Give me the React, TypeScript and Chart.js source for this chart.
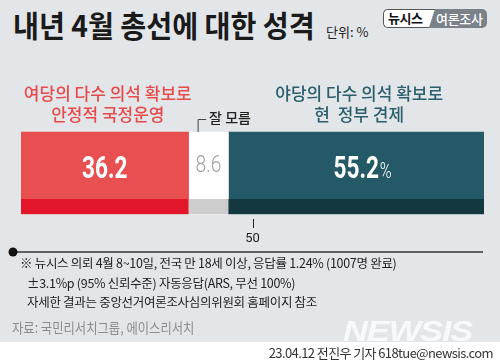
import React, { useEffect, useRef } from "react";
import { Chart, registerables } from "chart.js";

Chart.register(...registerables);

// ---- data ----
const categories = ["내년 4월 총선 성격"];
const seriesLabels = [
  ["여당의 다수 의석 확보로", "안정적 국정운영"],
  ["잘 모름"],
  ["야당의 다수 의석 확보로", "현  정부 견제"],
];
const values = [36.2, 8.6, 55.2];
const valueSuffix = ["", "", "%"];
const xTickValues = [50];

const title = "내년 4월 총선에 대한 성격";
const unitText = "단위: %";
const notes = [
  "※ 뉴시스 의뢰 4월 8~10일, 전국 만 18세 이상, 응답률 1.24% (1007명 완료)",
  "±3.1%p (95% 신뢰수준) 자동응답(ARS, 무선 100%)",
  "자세한 결과는 중앙선거여론조사심의위원회 홈페이지 참조",
];
const sourceText = "자료: 국민리서치그룹, 에이스리서치";
const creditText = "23.04.12 전진우 기자 618tue@newsis.com";

// ---- styles ----
const topColors = ["#e84f51", "#ffffff", "#245a67"];
const bottomColors = ["#e3152b", "#cdcdcd", "#133840"];
const valueColors = ["#ffffff", "#a3a3a3", "#ffffff"];
const labelColors = ["#e84a4c", "#222222", "#2a5f6b"];
const KR = "'Noto Sans CJK KR', 'Noto Sans', sans-serif";

const decorPlugin = {
  id: "decor",
  afterDatasetsDraw(chart: any) {
    const ctx = chart.ctx;
    ctx.save();
    chart.data.datasets.forEach((ds: any, i: number) => {
      const meta = chart.getDatasetMeta(i);
      meta.data.forEach((el: any) => {
        const p = el.getProps(["x", "y", "base", "height"], true);
        const left = Math.min(p.x, p.base);
        const right = Math.max(p.x, p.base);
        const top = p.y - p.height / 2;
        const bottom = p.y + p.height / 2;
        // darker bottom stripe
        ctx.fillStyle = bottomColors[i];
        ctx.fillRect(left, bottom - 15, right - left, 15);

        const cx = (left + right) / 2;
        const v = ds.data[0];
        const txt = v.toFixed(1);
        // value label
        ctx.fillStyle = valueColors[i];
        ctx.textBaseline = "alphabetic";
        if (i === 1) {
          ctx.save();
          ctx.translate(cx, top + 40);
          ctx.scale(0.8, 1);
          ctx.font = "300 24px Roboto";
          ctx.textAlign = "center";
          ctx.fillText(txt, 0, 0);
          ctx.restore();
        } else {
          ctx.save();
          ctx.translate(cx, top + 46);
          ctx.scale(0.73, 1);
          ctx.font = "bold 31px Roboto";
          ctx.textAlign = "center";
          ctx.fillText(txt, 0, 0);
          const w = ctx.measureText(txt).width;
          if (valueSuffix[i]) {
            ctx.font = "300 22px Roboto";
            ctx.textAlign = "left";
            ctx.fillText(valueSuffix[i], w / 2 + 1, 0);
          }
          ctx.restore();
        }

        // category labels
        ctx.fillStyle = labelColors[i];
        ctx.textBaseline = "middle";
        if (i === 1) {
          ctx.strokeStyle = "#444";
          ctx.lineWidth = 1;
          const bx = left + 9.5;
          ctx.beginPath();
          ctx.moveTo(bx + 8, top - 12.5);
          ctx.lineTo(bx, top - 12.5);
          ctx.lineTo(bx, top);
          ctx.stroke();
          ctx.font = `500 14px ${KR}`;
          ctx.textAlign = "left";
          ctx.fillText(seriesLabels[i][0], bx + 11, top - 14);
        } else {
          ctx.font = `500 17px ${KR}`;
          ctx.textAlign = "center";
          const lines = seriesLabels[i];
          lines.forEach((ln: string, k: number) => {
            ctx.fillText(ln, cx + 3, top - 38 + k * 21);
          });
        }
      });
    });
    ctx.restore();
  },
  afterDraw(chart: any) {
    const ctx = chart.ctx;
    const xs = chart.scales.x;
    const b = chart.chartArea.bottom;
    ctx.save();
    // tick marks
    ctx.strokeStyle = "#222";
    ctx.lineWidth = 1;
    xTickValues.forEach((v) => {
      const x = Math.round(xs.getPixelForValue(v)) + 0.5;
      ctx.beginPath();
      ctx.moveTo(x, b + 3);
      ctx.lineTo(x, b + 12);
      ctx.stroke();
    });
    // baseline with dot
    const y = b + 36;
    ctx.strokeStyle = "#333";
    ctx.lineWidth = 1.5;
    ctx.beginPath();
    ctx.moveTo(13, y);
    ctx.lineTo(xs.right - 1, y);
    ctx.stroke();
    ctx.fillStyle = "#111";
    ctx.beginPath();
    ctx.arc(13, y, 4.5, 0, Math.PI * 2);
    ctx.fill();
    ctx.restore();
  },
};

export default function App() {
  const ref = useRef<HTMLCanvasElement>(null);
  useEffect(() => {
    document.body.style.margin = "0";
    const chart = new Chart(ref.current!, {
      type: "bar",
      data: {
        labels: categories,
        datasets: values.map((v, i) => ({
          label: seriesLabels[i].join(" "),
          data: [v],
          backgroundColor: topColors[i],
          borderWidth: 0,
          barThickness: 82,
        })),
      },
      options: {
        indexAxis: "y",
        animation: false,
        responsive: false,
        events: [],
        layout: { padding: { left: 21, right: 16, top: 130, bottom: 118 } },
        plugins: { legend: { display: false }, tooltip: { enabled: false } },
        scales: {
          x: {
            stacked: true,
            min: 0,
            max: 100,
            position: "bottom",
            border: { display: false },
            grid: { display: false, drawTicks: false },
            afterBuildTicks: (s: any) => {
              s.ticks = xTickValues.map((v) => ({ value: v }));
            },
            afterFit: (s: any) => {
              s.height = 30;
            },
            ticks: {
              color: "#222",
              font: { family: "Roboto", size: 13 },
              padding: 15,
              maxRotation: 0,
            },
          },
          y: { stacked: true, display: false },
        },
      } as any,
      plugins: [decorPlugin],
    });
    return () => chart.destroy();
  }, []);

  return (
    <div style={{ position: "relative", width: 500, height: 364, background: "#fff", overflow: "hidden" }}>
      <div style={{ position: "absolute", left: 0, top: 0, width: 500, height: 342, background: "#e3e6e9" }} />
      <div
        style={{
          position: "absolute", left: 13, top: 6, fontFamily: KR, fontWeight: 700, fontSize: 30,
          lineHeight: "36px", color: "#1a1a1a", transform: "scaleX(0.94)", transformOrigin: "left top", whiteSpace: "nowrap",
        }}
      >
        {title}
      </div>
      <div style={{ position: "absolute", left: 326, top: 23, fontFamily: KR, fontSize: 13, lineHeight: "18px", color: "#222", whiteSpace: "nowrap" }}>
        {unitText}
      </div>
      <div
        style={{
          position: "absolute", left: 383, top: 9, width: 104, height: 19, borderRadius: 5, background: "#7a8188",
          overflow: "hidden", fontFamily: KR, fontSize: 13, lineHeight: "19px",
        }}
      >
        <div
          style={{
            position: "absolute", left: 0, top: 0, width: 52, height: 19, background: "#fff", boxSizing: "border-box",
            border: "1.5px solid #555", borderRight: "none", borderRadius: "5px 0 0 5px",
            clipPath: "polygon(0 0, 100% 0, 88% 100%, 0 100%)", color: "#111", fontWeight: 700,
            paddingLeft: 4, lineHeight: "16px", letterSpacing: -0.5,
          }}
        >
          뉴시스
        </div>
        <div style={{ position: "absolute", left: 53, top: 0, color: "#fff", fontWeight: 500, lineHeight: "19px", letterSpacing: -0.3 }}>
          여론조사
        </div>
      </div>
      <canvas ref={ref} width={500} height={364} style={{ position: "absolute", left: 0, top: 0, width: 500, height: 364 }} />
      {notes.map((n, i) => (
        <div
          key={i}
          style={{
            position: "absolute", left: i === 0 ? 20 : 27, top: 255 + i * 19.5, fontFamily: KR, fontSize: 12.5,
            lineHeight: "16px", color: "#222", whiteSpace: "nowrap", letterSpacing: -0.3,
          }}
        >
          {n}
        </div>
      ))}
      <div
        style={{
          position: "absolute", left: 12, top: 318, fontFamily: KR, fontSize: 14, lineHeight: "18px", color: "#8c8c8c",
          whiteSpace: "nowrap", transform: "scaleX(0.88)", transformOrigin: "left top",
        }}
      >
        {sourceText}
      </div>
      <div
        style={{
          position: "absolute", left: 343, top: 314, fontFamily: "'Liberation Sans', Arial, sans-serif", fontWeight: 700,
          fontStyle: "italic", fontSize: 30, lineHeight: "34px", color: "rgba(255,255,255,0.75)", whiteSpace: "nowrap",
          transform: "scaleX(1.15)", transformOrigin: "left top", letterSpacing: -1,
        }}
      >
        NEWSIS
      </div>
      <div
        style={{
          position: "absolute", right: 7, top: 344, fontFamily: KR, fontSize: 13, lineHeight: "17px", color: "#333",
          whiteSpace: "nowrap", letterSpacing: -0.6,
        }}
      >
        {creditText}
      </div>
    </div>
  );
}
